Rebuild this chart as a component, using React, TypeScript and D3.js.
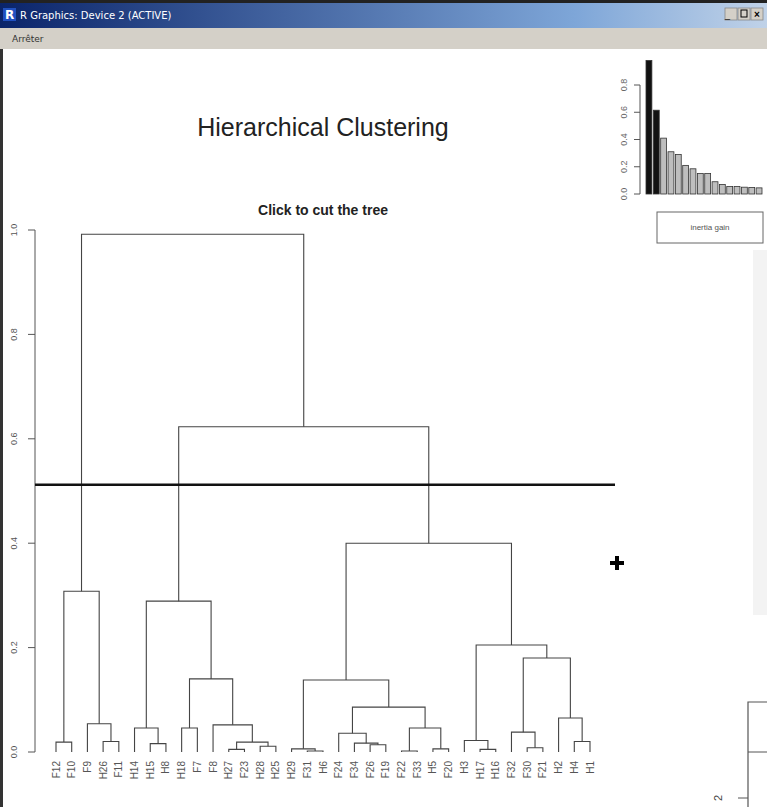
import React from "react";
import * as d3 from "d3";

// ---- Data ----
const leafLabels = [
  "F12", "F10", "F9", "H26", "F11", "H14", "H15", "H8", "H18", "F7", "F8", "H27",
  "F23", "H28", "H25", "H29", "F31", "H6", "F24", "F34", "F26", "F19", "F22", "F33",
  "H5", "F20", "H3", "H17", "H16", "F32", "F30", "F21", "H2", "H4", "H1",
];
// hclust-style merge table: negative = leaf (1-based order), positive = earlier merge
const mergeLeft = [-17, -23, -12, -28, -25, -16, -31, -14, -21, -7, -20, 3, -1, -4, -34, -27, -19, -30, -6, -9, 2, -11, -3, -33, 17, 20, 6, 18, 16, 19, 13, 27, 30, 31];
const mergeRight = [-18, -24, -13, -29, -26, 1, -32, -15, -22, -8, 9, 8, -2, -5, -35, 4, 11, 7, 10, -10, 5, 12, 14, 15, 21, 22, 25, 24, 28, 26, 23, 29, 32, 33];
const mergeHeight = [0.002, 0.002, 0.005, 0.005, 0.006, 0.006, 0.008, 0.011, 0.014, 0.016, 0.017, 0.019, 0.019, 0.02, 0.02, 0.022, 0.036, 0.038, 0.046, 0.046, 0.046, 0.052, 0.054, 0.065, 0.086, 0.14, 0.138, 0.18, 0.205, 0.289, 0.308, 0.40, 0.623, 0.992];
const yTicks = [0, 0.2, 0.4, 0.6, 0.8, 1.0];
const cutHeight = 0.512;

const gainValues = [0.98, 0.615, 0.41, 0.31, 0.29, 0.21, 0.185, 0.15, 0.15, 0.09, 0.07, 0.055, 0.055, 0.05, 0.048, 0.045];
const gainBlackCount = 2;
const gainTicks = [0, 0.2, 0.4, 0.6, 0.8];

const FONT = "'Liberation Sans', Arial, sans-serif";

export default function App() {
  const x = d3.scaleLinear().domain([1, leafLabels.length]).range([56, 590]);
  const y = d3.scaleLinear().domain([0, 1]).range([752, 230]);

  const nodeX: number[] = [];
  const nodeH: number[] = [];
  const pos = (ref: number) => (ref < 0 ? x(-ref) : nodeX[ref - 1]);
  const hgt = (ref: number) => (ref < 0 ? 0 : nodeH[ref - 1]);
  const segs: string[] = [];
  mergeLeft.forEach((l, i) => {
    const r = mergeRight[i];
    const h = mergeHeight[i];
    const xl = pos(l), xr = pos(r);
    nodeX.push((xl + xr) / 2);
    nodeH.push(h);
    segs.push(`M${xl},${y(hgt(l))}V${y(h)}H${xr}V${y(hgt(r))}`);
  });

  const bx = d3.scaleBand<number>().domain(gainValues.map((_, i) => i)).range([646, 762]).paddingInner(0.2).paddingOuter(0);
  const by = d3.scaleLinear().domain([0, 0.8]).range([194, 85]);

  return (
    <svg width={767} height={807} style={{ position: "absolute", left: 0, top: 0, background: "#fff" }} fontFamily={FONT}>
      <defs>
        <linearGradient id="tb" x1="0" x2="1" y1="0" y2="0">
          <stop offset="0" stopColor="#0a246a" />
          <stop offset="0.75" stopColor="#7ea6d8" />
          <stop offset="1" stopColor="#c0d2e8" />
        </linearGradient>
      </defs>
      <rect x={0} y={0} width={767} height={807} fill="#fff" />
      {/* window chrome */}
      <rect x={0} y={0} width={767} height={28} fill="url(#tb)" />
      <rect x={0} y={0} width={767} height={3} fill="#222" />
      <rect x={3} y={8} width={13} height={13} fill="#2050c0" />
      <text x={9.5} y={19} fontSize={12} fontWeight="bold" fill="#fff" textAnchor="middle" fontFamily="'DejaVu Sans', sans-serif">R</text>
      <text x={20} y={19} fontSize={10} fill="#fff" fontFamily="'DejaVu Sans', sans-serif">R Graphics: Device 2 (ACTIVE)</text>
      {[731, 744, 757].map((bx0, i) => (
        <rect key={i} x={bx0 - 6} y={8} width={12} height={12} fill="#d4d0c8" stroke="#888" strokeWidth={0.8} />
      ))}
      <text x={725} y={18} fontSize={9} fill="#000">_</text>
      <rect x={741} y={10} width={6} height={7} fill="none" stroke="#000" strokeWidth={1} />
      <text x={757} y={18} fontSize={10} fontWeight="bold" fill="#000" textAnchor="middle">×</text>
      <rect x={0} y={28} width={767} height={21} fill="#d4d0c8" />
      <text x={12} y={42} fontSize={9} fill="#333" fontFamily="'DejaVu Sans', sans-serif">Arrêter</text>
      <rect x={0} y={49} width={3} height={758} fill="#333" />
      <rect x={753} y={250} width={14} height={365} fill="#f3f3f3" />

      {/* titles */}
      <text x={323} y={136} fontSize={25} textAnchor="middle" fill="#222">Hierarchical Clustering</text>
      <text x={323} y={215} fontSize={14} fontWeight="bold" textAnchor="middle" fill="#222">Click to cut the tree</text>

      {/* y axis */}
      <g stroke="#555" strokeWidth={1} fill="none">
        <path d={`M35,${y(0)}V${y(1)}`} />
        {yTicks.map((t) => (
          <path key={t} d={`M28,${y(t)}H35`} />
        ))}
      </g>
      {yTicks.map((t) => (
        <text key={t} transform={`translate(14,${y(t)}) rotate(-90)`} fontSize={9} textAnchor="middle" dy="0.35em" fill="#555">
          {t.toFixed(1)}
        </text>
      ))}

      {/* dendrogram */}
      <g stroke="#444" strokeWidth={1.1} fill="none">
        {segs.map((d, i) => (
          <path key={i} d={d} />
        ))}
      </g>
      {leafLabels.map((lab, i) => (
        <text key={i} transform={`translate(${x(i + 1)},761) rotate(-90)`} fontSize={10} textAnchor="end" dy="0.35em" fill="#555">
          {lab}
        </text>
      ))}

      {/* cut line */}
      <path d={`M35,${y(cutHeight)}H615`} stroke="#111" strokeWidth={2.5} />

      {/* cursor */}
      <path d="M617,556V570M610,563H624" stroke="#000" strokeWidth={4} />

      {/* inertia gain barplot */}
      <g stroke="#555" strokeWidth={1} fill="none">
        <path d={`M640,${by(0)}V${by(0.8)}`} />
        {gainTicks.map((t) => (
          <path key={t} d={`M634,${by(t)}H640`} />
        ))}
      </g>
      {gainTicks.map((t) => (
        <text key={t} transform={`translate(624,${by(t)}) rotate(-90)`} fontSize={9} textAnchor="middle" dy="0.35em" fill="#666">
          {t.toFixed(1)}
        </text>
      ))}
      {gainValues.map((v, i) => (
        <rect
          key={i}
          x={bx(i)}
          y={by(v)}
          width={bx.bandwidth()}
          height={by(0) - by(v)}
          fill={i < gainBlackCount ? "#111" : "#bebebe"}
          stroke="#333"
          strokeWidth={0.8}
        />
      ))}
      <rect x={657} y={212} width={106} height={31} fill="#fff" stroke="#666" strokeWidth={1} />
      <text x={710} y={230} fontSize={8} textAnchor="middle" fill="#555">inertia gain</text>

      {/* fragment of another window */}
      <path d="M748,807V702H767" stroke="#555" strokeWidth={1.2} fill="none" />
      <path d="M748,752H767" stroke="#555" strokeWidth={1} />
      <path d="M738,798H748" stroke="#555" strokeWidth={1} />
      <text transform="translate(718,798) rotate(-90)" fontSize={11} textAnchor="middle" dy="0.35em" fill="#444">2</text>
    </svg>
  );
}
